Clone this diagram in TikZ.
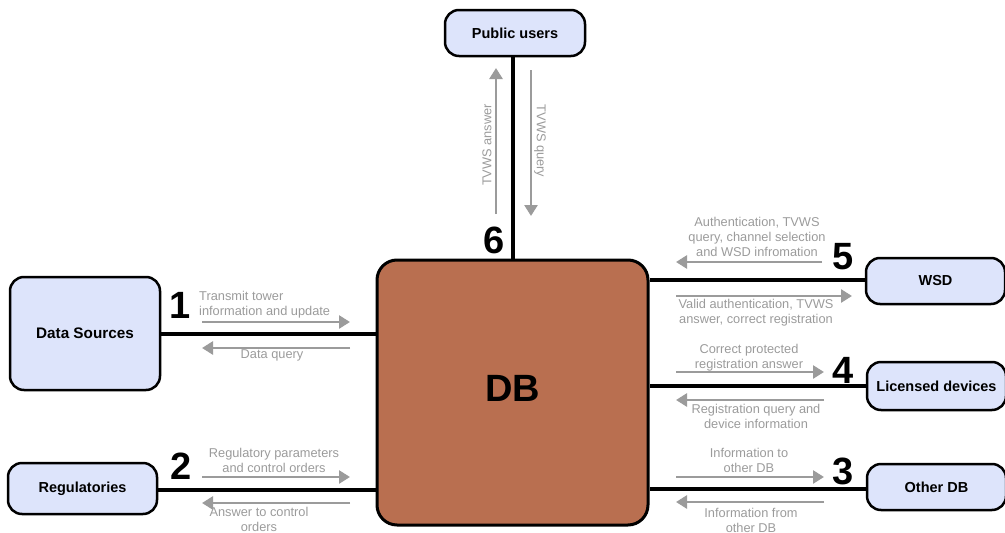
\documentclass[tikz,border=0pt]{standalone}
\usepackage{fontspec}
\setmainfont{Liberation Sans}
\usetikzlibrary{arrows.meta}
\definecolor{boxblue}{RGB}{221,228,251}
\definecolor{dbbrown}{RGB}{185,111,80}
\definecolor{flowgray}{RGB}{155,155,155}
\tikzset{
  ent/.style={draw=black, line width=2.5pt, rounded corners=14pt, fill=boxblue, font=\bfseries\fontsize{14.5}{16}\selectfont, align=center},
  link/.style={draw=black, line width=3.5pt},
  flow/.style={draw=flowgray, line width=2.6pt, -{Triangle[length=11pt,width=13pt]}},
  lbl/.style={text=flowgray, font=\fontsize{12.8}{15}\selectfont, align=center, inner sep=0pt},
  num/.style={font=\bfseries\fontsize{38}{40}\selectfont, inner sep=0pt}
}
\begin{document}
\begin{tikzpicture}[x=1pt,y=-1pt]
\useasboundingbox (0,0) rectangle (1005,533);
% DB
\node[draw=black, line width=3pt, rounded corners=20pt, fill=dbbrown, minimum width=271pt, minimum height=265pt, font=\bfseries\fontsize{38}{40}\selectfont] (db) at (512.5,392.5) {\raisebox{8pt}{DB}};
% entities
\node[ent, minimum width=150pt, minimum height=113pt, font=\bfseries\fontsize{15.3}{17}\selectfont] (ds) at (85,333.5) {Data Sources};
\node[ent, minimum width=149pt, minimum height=51pt] (reg) at (82.5,488.5) {Regulatories};
\node[ent, minimum width=140pt, minimum height=46pt] (pub) at (515,33) {Public users};
\node[ent, minimum width=139pt, minimum height=46pt] (wsd) at (935.5,281) {WSD};
\node[ent, minimum width=139pt, minimum height=48pt, inner xsep=1pt] (lic) at (936.5,386) {Licensed devices};
\node[ent, minimum width=139pt, minimum height=46pt] (odb) at (936.5,487) {Other DB};
% links
\draw[link] (ds.east |- 0,334) -- (db.west |- 0,334);
\draw[link] (reg.east |- 0,490) -- (db.west |- 0,490);
\draw[link] (pub.south -| 513,0) -- (db.north -| 513,0);
\draw[link] (wsd.west |- 0,280) -- (db.east |- 0,280);
\draw[link] (lic.west |- 0,386) -- (db.east |- 0,386);
\draw[link] (odb.west |- 0,489) -- (db.east |- 0,489);
% numbers
\node[num] (n1) at (180,305) {1};
\node[num] (n2) at (181,466) {2};
\node[num] (n3) at (843,471) {3};
\node[num] (n4) at (843,370) {4};
\node[num] (n5) at (843,257) {5};
\node[num] (n6) at (494,240) {6};
% flow coordinates
\coordinate (a1s) at (202,322); \coordinate (a1e) at (350,322);
\coordinate (b1s) at (350,348); \coordinate (b1e) at (202,348);
\coordinate (a2s) at (202,477); \coordinate (a2e) at (350,477);
\coordinate (b2s) at (350,503); \coordinate (b2e) at (202,503);
\coordinate (a6s) at (496,214); \coordinate (a6e) at (496,68);
\coordinate (b6s) at (531,70);  \coordinate (b6e) at (531,216);
\coordinate (a5s) at (822,262); \coordinate (a5e) at (676,262);
\coordinate (b5s) at (676,296); \coordinate (b5e) at (852,296);
\coordinate (a4s) at (676,372); \coordinate (a4e) at (824,372);
\coordinate (b4s) at (824,400); \coordinate (b4e) at (676,400);
\coordinate (a3s) at (676,477); \coordinate (a3e) at (824,477);
\coordinate (b3s) at (824,502); \coordinate (b3e) at (676,502);
\draw[flow] (a1s) -- (a1e);
\draw[flow] (b1s) -- (b1e);
\draw[flow] (a2s) -- (a2e);
\draw[flow] (b2s) -- (b2e);
\draw[flow] (a6s) -- (a6e);
\draw[flow] (b6s) -- (b6e);
\draw[flow] (a5s) -- (a5e);
\draw[flow] (b5s) -- (b5e);
\draw[flow] (a4s) -- (a4e);
\draw[flow] (b4s) -- (b4e);
\draw[flow] (a3s) -- (a3e);
\draw[flow] (b3s) -- (b3e);
% labels
\node[lbl, align=left, anchor=west] (t1a) at (199,305) {Transmit tower\\information and update};
\node[lbl] (t1b) at (272,355.5) {Data query};
\node[lbl] (t2a) at (274,460) {Regulatory parameters\\and control orders};
\node[lbl] (t2b) at (259,519.5) {Answer to control\\orders};
\node[lbl, rotate=90] (t6a) at (487,145) {TVWS answer};
\node[lbl, rotate=-90] (t6b) at (540,141) {TVWS query};
\node[lbl] (t5a) at (757,237) {Authentication, TVWS\\query, channel selection\\and WSD infromation};
\node[lbl] (t5b) at (756,313) {Valid authentication, TVWS\\answer, correct registration};
\node[lbl] (t4a) at (749,357.5) {Correct protected\\registration answer};
\node[lbl] (t4b) at (756,416.5) {Registration query and\\device information};
\node[lbl] (t3a) at (749,460.5) {Information to\\other DB};
\node[lbl] (t3b) at (751,520) {Information from\\other DB};
\end{tikzpicture}
\end{document}
